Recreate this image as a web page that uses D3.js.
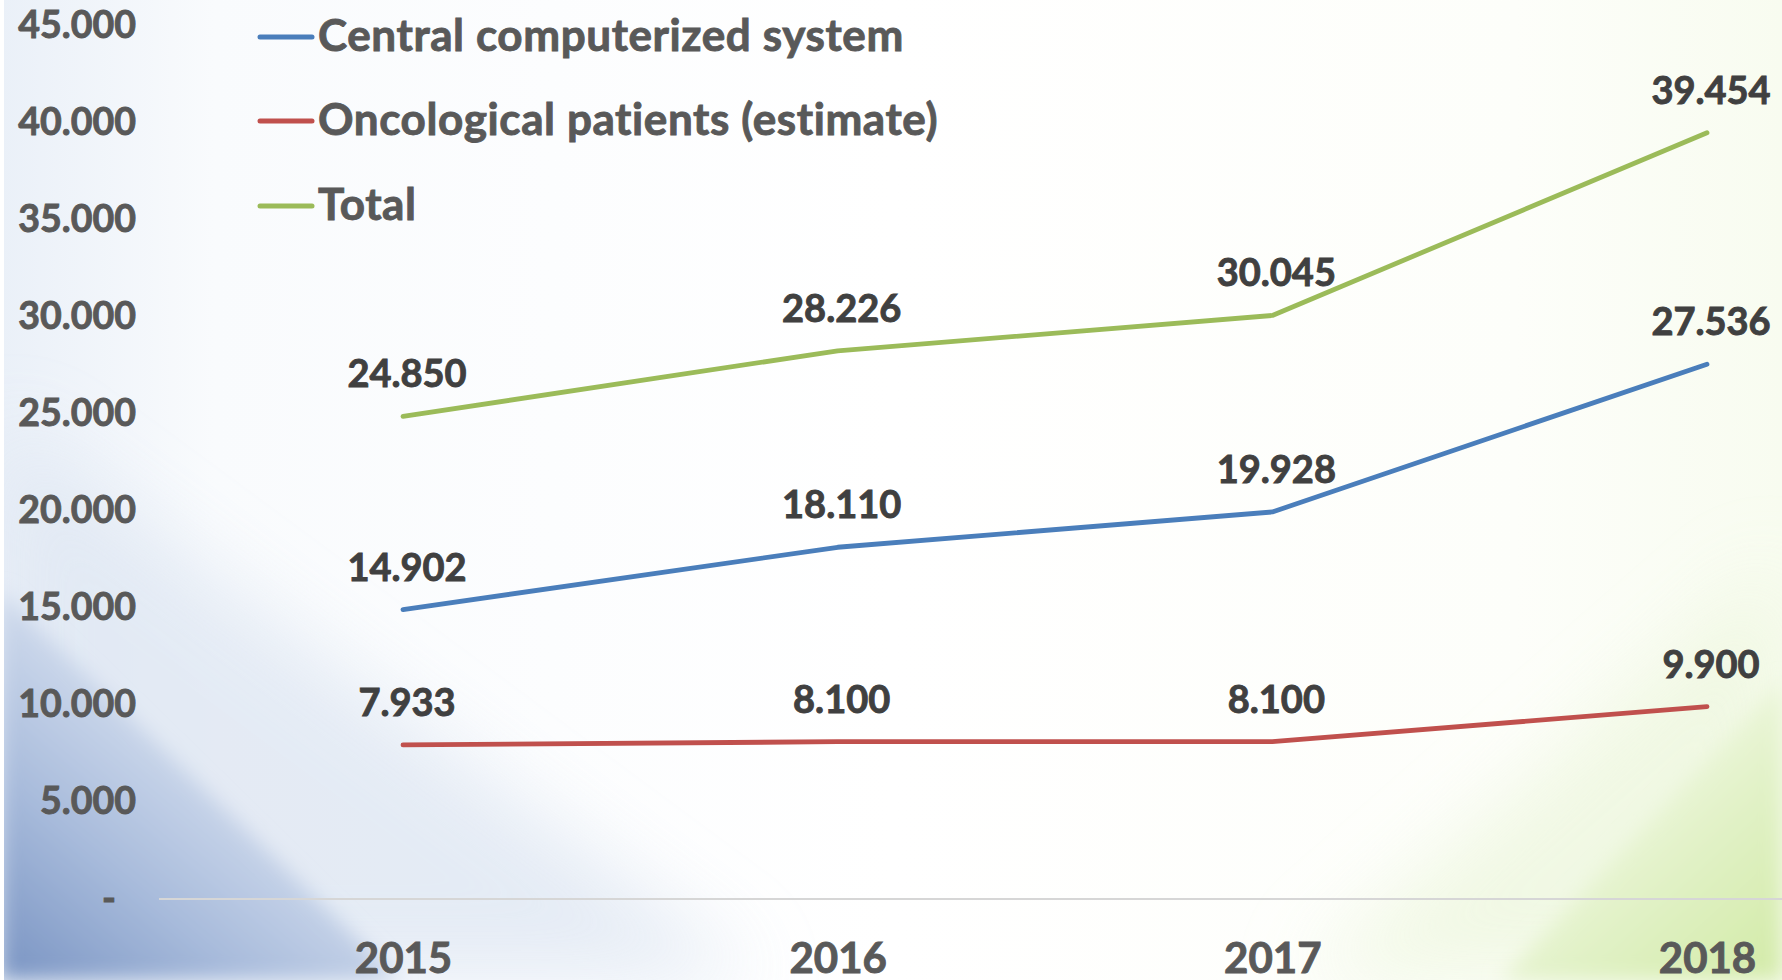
<html>
<head>
<script src="https://d3js.org/d3.v7.min.js"></script>
<style>
  body { margin: 0; background: #fff; overflow: hidden; }
  text { font-family: Lato, "Open Sans", sans-serif; font-weight: bold; stroke-width: 0.9px; }
</style>
</head>
<body>
<div id="chart"></div>
<script>
// data
var years = ["2015", "2016", "2017", "2018"];
var central = [14902, 18110, 19928, 27536];
var oncological = [7933, 8100, 8100, 9900];
var total = [24850, 28226, 30045, 39454];
var seriesNames = ["Central computerized system", "Oncological patients (estimate)", "Total"];
var seriesColors = ["#4a7ebb", "#c0504d", "#9bbb59"];
var yTicks = [0, 5000, 10000, 15000, 20000, 25000, 30000, 35000, 40000, 45000];

var W = 1782, H = 980;

var svg = d3.select("#chart").append("svg")
  .attr("width", W)
  .attr("height", H);

// background: white with a blue corner bottom left and a green one bottom right
var defs = svg.append("defs");
var blur = defs.append("filter").attr("id", "soft").attr("x", "-50%").attr("y", "-50%").attr("width", "200%").attr("height", "200%");
blur.append("feGaussianBlur").attr("stdDeviation", 40);
var blur2 = defs.append("filter").attr("id", "soft2").attr("x", "-50%").attr("y", "-50%").attr("width", "200%").attr("height", "200%");
blur2.append("feGaussianBlur").attr("stdDeviation", 10);

var bg = defs.append("linearGradient").attr("id", "bgGrad").attr("x1", 0).attr("x2", 1).attr("y1", 0).attr("y2", 0);
bg.append("stop").attr("offset", 0).attr("stop-color", "#eaf0f8");
bg.append("stop").attr("offset", 0.12).attr("stop-color", "#f9fbfd");
bg.append("stop").attr("offset", 0.5).attr("stop-color", "#ffffff");
bg.append("stop").attr("offset", 0.85).attr("stop-color", "#fdfefa");
bg.append("stop").attr("offset", 1).attr("stop-color", "#f8fcf0");

var blueGrad = defs.append("linearGradient").attr("id", "blueGrad").attr("x1", 0).attr("y1", 1).attr("x2", 0.6).attr("y2", 0.3);
blueGrad.append("stop").attr("offset", 0).attr("stop-color", "#7893c2");
blueGrad.append("stop").attr("offset", 0.45).attr("stop-color", "#a9bcdc");
blueGrad.append("stop").attr("offset", 1).attr("stop-color", "#dfe7f3");

var greenGrad = defs.append("linearGradient").attr("id", "greenGrad").attr("x1", 1).attr("y1", 1).attr("x2", 0.4).attr("y2", 0.3);
greenGrad.append("stop").attr("offset", 0).attr("stop-color", "#d2eaa6");
greenGrad.append("stop").attr("offset", 0.6).attr("stop-color", "#e2f2c8");
greenGrad.append("stop").attr("offset", 1).attr("stop-color", "#f1f8e4");

svg.append("rect").attr("width", W).attr("height", H).attr("fill", "url(#bgGrad)");

svg.append("path")
  .attr("d", "M0,420 L0,980 L760,980 Z")
  .attr("fill", "#dfe7f3").attr("opacity", 0.8)
  .attr("filter", "url(#soft)");
svg.append("path")
  .attr("d", "M0,590 L0,980 L400,980 Z")
  .attr("fill", "url(#blueGrad)")
  .attr("filter", "url(#soft2)");

svg.append("path")
  .attr("d", "M1782,560 L1782,980 L1300,980 Z")
  .attr("fill", "#eef7df").attr("opacity", 0.8)
  .attr("filter", "url(#soft)");
svg.append("path")
  .attr("d", "M1782,680 L1782,980 L1500,980 Z")
  .attr("fill", "url(#greenGrad)")
  .attr("filter", "url(#soft2)");

svg.append("rect").attr("width", 4).attr("height", H).attr("fill", "#ffffff");

// scales
var x = d3.scalePoint().domain(years).range([403, 1707]);
var y = d3.scaleLinear().domain([0, 45000]).range([899, 25]);

var loc = d3.formatLocale({ decimal: ",", thousands: ".", grouping: [3], currency: ["", ""] });
var fmt = loc.format(",d");
function tickFmt(d) { return d === 0 ? "-" : fmt(d); }

// base line
svg.append("line")
  .attr("x1", 159).attr("x2", W)
  .attr("y1", y(0)).attr("y2", y(0))
  .attr("stroke", "#d6d6d6").attr("stroke-width", 2);

// y axis
var yAxis = svg.append("g")
  .attr("transform", "translate(136,0)")
  .call(d3.axisLeft(y).tickValues(yTicks).tickFormat(tickFmt).tickSize(0).tickPadding(0));
yAxis.select(".domain").remove();
yAxis.selectAll("text")
  .attr("fill", "#595959")
  .attr("stroke", "#595959")
  .style("font-size", "37.5px")
  .attr("dx", function(d) { return d === 0 ? -20 : 0; });

// x axis
var xAxis = svg.append("g")
  .attr("transform", "translate(0," + y(0) + ")")
  .call(d3.axisBottom(x).tickSize(0).tickPadding(44));
xAxis.select(".domain").remove();
xAxis.selectAll("text")
  .attr("fill", "#595959")
  .attr("stroke", "#595959")
  .style("font-size", "42px");

// lines
var allSeries = [central, oncological, total];
var line = d3.line()
  .x(function(d, i) { return x(years[i]); })
  .y(function(d) { return y(d); });

allSeries.forEach(function(vals, s) {
  svg.append("path")
    .datum(vals)
    .attr("fill", "none")
    .attr("stroke", seriesColors[s])
    .attr("stroke-width", 4.8)
    .attr("stroke-linecap", "round")
    .attr("stroke-linejoin", "round")
    .attr("d", line);

  svg.append("g").selectAll("text")
    .data(vals)
    .enter().append("text")
      .attr("x", function(d, i) { return x(years[i]) + 4; })
      .attr("y", function(d) { return y(d) - 29; })
      .attr("text-anchor", "middle")
      .attr("fill", "#404040")
      .attr("stroke", "#404040")
      .style("font-size", "38px")
      .text(function(d) { return fmt(d); });
});

// legend
var legendY = [37, 121, 206];
var legend = svg.append("g");
seriesNames.forEach(function(name, s) {
  legend.append("line")
    .attr("x1", 260).attr("x2", 312)
    .attr("y1", legendY[s]).attr("y2", legendY[s])
    .attr("stroke", seriesColors[s])
    .attr("stroke-width", 5)
    .attr("stroke-linecap", "round");
  legend.append("text")
    .attr("x", 318)
    .attr("y", legendY[s] + 14)
    .attr("fill", "#595959")
    .attr("stroke", "#595959")
    .style("font-size", "44px")
    .style("letter-spacing", "0.6px")
    .text(name);
});
</script>
</body>
</html>
